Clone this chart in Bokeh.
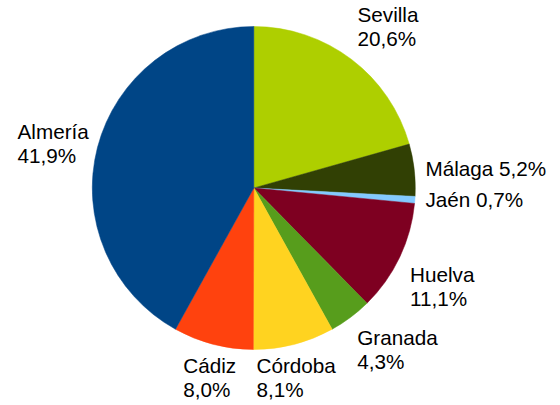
import math
from bokeh.plotting import figure
from bokeh.models import Range1d, ColumnDataSource
from bokeh.core.properties import value
from bokeh.embed import file_html
from bokeh.resources import INLINE

# Data
provinces = ["Sevilla", "Málaga", "Jaén", "Huelva", "Granada", "Córdoba", "Cádiz", "Almería"]
shares = [20.6, 5.2, 0.7, 11.1, 4.3, 8.1, 8.0, 41.9]
colors = ["#aecf00", "#314004", "#83caff", "#7e0021", "#579d1c", "#ffd320", "#ff420e", "#004586"]

# Layout (pixel positions in page coordinates)
W, H = 560, 405
cx_px, cy_px, r_px = 253.3, 187.5, 161.5
TEXT_SHIFT = 8  # compensation for baseline placement
# label anchors: (left x, baseline of first line, baseline of second line or None)
label_pos = {
    "Sevilla": (357, 22, 46),
    "Málaga": (425, 176, None),
    "Jaén": (425, 206.5, None),
    "Huelva": (409.5, 281.5, 305.5),
    "Granada": (356.7, 345, 369),
    "Córdoba": (256, 373, 397),
    "Cádiz": (182.7, 373, 397),
    "Almería": (17, 139, 163),
}

def dx(px):
    return px

def dy(py):
    return H - py

total = sum(shares)
starts, ends = [], []
cum = 0.0
for s in shares:
    a0 = math.pi / 2 - 2 * math.pi * cum / total
    cum += s
    a1 = math.pi / 2 - 2 * math.pi * cum / total
    starts.append(a0)
    ends.append(a1)

src = ColumnDataSource(dict(start=starts, end=ends, color=colors, name=provinces))

p = figure(width=W, height=H, output_backend="svg", toolbar_location=None,
           x_range=Range1d(0, W), y_range=Range1d(0, H), min_border=0)
p.axis.visible = False
p.grid.visible = False
p.outline_line_color = None
p.background_fill_color = "white"
p.border_fill_color = "white"

p.wedge(x=dx(cx_px), y=dy(cy_px), radius=r_px, start_angle="start", end_angle="end",
        direction="clock", fill_color="color", line_color="color", line_width=0.5, source=src)

tx, ty, tt = [], [], []
for name, s in zip(provinces, shares):
    pct = f"{s:.1f}".replace(".", ",") + "%"
    x, y1, y2 = label_pos[name]
    if y2 is None:
        tx.append(dx(x)); ty.append(dy(y1 - TEXT_SHIFT)); tt.append(f"{name} {pct}")
    else:
        tx.append(dx(x)); ty.append(dy(y1 - TEXT_SHIFT)); tt.append(name)
        tx.append(dx(x)); ty.append(dy(y2 - TEXT_SHIFT)); tt.append(pct)

p.text(x=tx, y=ty, text=tt, text_font=value("Liberation Sans"), text_font_size="20.7px",
       text_color="#000000", text_align="left", text_baseline="alphabetic")

open("out.html", "w").write(file_html(p, INLINE))
